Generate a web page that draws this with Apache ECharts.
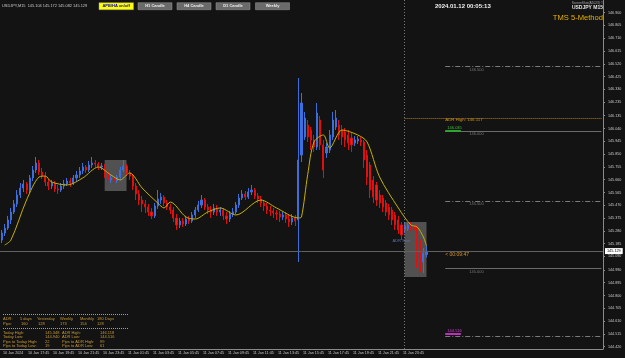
<!DOCTYPE html>
<html>
<head>
<meta charset="utf-8">
<script src="https://cdn.jsdelivr.net/npm/echarts@6/dist/echarts.min.js"></script>
<style>
  html, body { margin: 0; padding: 0; background: #131313; }
  #chart { width: 625px; height: 358px; }
</style>
</head>
<body>
<div id="chart"></div>
<script>
// USDJPY M15, bars from 10 Jan 15:45 to 12 Jan 01:45 -> [open, close, low, high]
const bars = [
  [145.212,145.264,145.190,145.287],[145.264,145.301,145.242,145.331],[145.301,145.361,145.287,145.391],
  [145.361,145.420,145.331,145.450],[145.420,145.480,145.405,145.509],[145.480,145.546,145.457,145.583],
  [145.546,145.598,145.524,145.635],[145.598,145.628,145.569,145.658],[145.628,145.583,145.554,145.643],
  [145.583,145.673,145.561,145.695],[145.673,145.732,145.650,145.762],[145.732,145.784,145.710,145.828],
  [145.784,145.717,145.695,145.806],[145.717,145.687,145.665,145.747],[145.687,145.643,145.613,145.717],
  [145.643,145.613,145.583,145.665],[145.613,145.635,145.591,145.658],[145.635,145.591,145.569,145.650],
  [145.591,145.583,145.554,145.621],[145.583,145.613,145.569,145.635],[145.613,145.628,145.591,145.658],
  [145.628,145.650,145.613,145.673],[145.650,145.635,145.606,145.673],[145.635,145.673,145.621,145.695],
  [145.673,145.695,145.650,145.725],[145.695,145.725,145.673,145.754],[145.725,145.754,145.702,145.784],
  [145.754,145.732,145.710,145.769],[145.732,145.769,145.717,145.799],[145.769,145.784,145.747,145.828],
  [145.784,145.776,145.754,145.806],[145.776,145.754,145.732,145.791],[145.754,145.762,145.732,145.784],
  [145.762,145.717,145.673,145.776],[145.717,145.658,145.621,145.732],[145.658,145.673,145.635,145.695],
  [145.673,145.650,145.628,145.687],[145.650,145.680,145.635,145.695],[145.680,145.732,145.658,145.754],
  [145.732,145.762,145.717,145.806],[145.762,145.710,145.687,145.776],[145.710,145.687,145.658,145.732],
  [145.687,145.613,145.583,145.702],[145.613,145.554,145.509,145.635],[145.554,145.509,145.472,145.583],
  [145.509,145.480,145.420,145.539],[145.480,145.457,145.413,145.509],[145.457,145.420,145.391,145.480],
  [145.420,145.391,145.368,145.450],[145.391,145.465,145.376,145.487],[145.465,145.517,145.443,145.583],
  [145.509,145.531,145.480,145.561],[145.531,145.487,145.465,145.546],[145.487,145.457,145.435,145.509],
  [145.457,145.435,145.405,145.480],[145.435,145.376,145.346,145.457],[145.376,145.324,145.287,145.405],
  [145.324,145.353,145.301,145.376],[145.353,145.331,145.309,145.376],[145.331,145.368,145.316,145.391],
  [145.368,145.353,145.331,145.391],[145.353,145.398,145.339,145.420],[145.398,145.435,145.376,145.457],
  [145.435,145.472,145.420,145.502],[145.472,145.509,145.450,145.546],[145.509,145.457,145.435,145.524],
  [145.457,145.435,145.405,145.480],[145.435,145.420,145.376,145.465],[145.420,145.450,145.398,145.480],
  [145.450,145.420,145.391,145.472],[145.420,145.435,145.391,145.457],[145.435,145.391,145.361,145.450],
  [145.391,145.368,145.331,145.420],[145.368,145.405,145.346,145.428],[145.405,145.420,145.383,145.450],
  [145.420,145.472,145.405,145.494],[145.472,145.524,145.450,145.554],[145.524,145.554,145.509,145.583],
  [145.554,145.531,145.509,145.576],[145.531,145.569,145.517,145.598],[145.569,145.583,145.546,145.621],
  [145.583,145.539,145.517,145.598],[145.539,145.517,145.487,145.561],[145.517,145.487,145.457,145.539],
  [145.487,145.465,145.428,145.509],[145.465,145.435,145.405,145.487],[145.435,145.428,145.391,145.465],
  [145.428,145.413,145.376,145.450],[145.413,145.405,145.361,145.435],[145.405,145.383,145.346,145.428],
  [145.383,145.398,145.361,145.420],[145.398,145.368,145.339,145.420],[145.368,145.346,145.309,145.398],
  [145.346,145.376,145.324,145.405],[145.376,145.353,145.316,145.398],[145.361,145.806,145.049,146.415],
  [145.843,146.229,145.791,146.304],[145.977,146.118,145.955,146.163],[146.066,145.977,145.940,146.103],
  [146.029,145.955,145.880,146.051],[145.955,145.903,145.866,145.992],[145.903,146.155,145.880,146.229],
  [146.103,145.918,145.880,146.133],[145.918,145.732,145.673,145.955],[145.858,145.903,145.821,145.932],
  [145.880,145.992,145.858,146.029],[145.977,146.103,145.955,146.163],[146.051,146.118,146.029,146.177],
  [146.066,145.992,145.955,146.103],[146.029,145.977,145.918,146.066],[146.014,145.955,145.903,146.044],
  [145.992,145.932,145.880,146.029],[145.969,145.918,145.866,146.007],[145.932,145.955,145.910,145.984],
  [145.947,145.962,145.925,145.984],[145.955,145.940,145.910,145.977],[145.940,145.806,145.747,145.955],
  [145.843,145.680,145.621,145.880],[145.769,145.583,145.524,145.791],[145.658,145.531,145.487,145.687],
  [145.621,145.509,145.465,145.643],[145.546,145.487,145.450,145.583],[145.524,145.457,145.420,145.546],
  [145.487,145.420,145.391,145.509],[145.457,145.398,145.361,145.480],[145.435,145.361,145.324,145.457],
  [145.398,145.324,145.287,145.420],[145.361,145.287,145.257,145.391],[145.324,145.250,145.212,145.346],
  [145.287,145.316,145.264,145.346],[145.294,145.324,145.279,145.339],[145.324,145.301,145.279,145.346],
  [145.316,145.287,145.257,145.339],[145.301,145.049,145.004,145.324],[145.212,144.975,144.938,145.242],
  [145.049,145.116,144.968,145.153],[145.104,145.129,145.082,145.172]
];

// yellow moving average, read as [bar index, price]
const maLine = [
  [1,145.175],[3,145.212],[8,145.509],[12,145.680],[14,145.687],[16,145.643],[21,145.621],
  [26,145.673],[31,145.754],[35,145.695],[38,145.658],[41,145.710],[45,145.598],[50,145.487],
  [52,145.450],[54,145.494],[59,145.383],[62,145.368],[66,145.420],[70,145.450],[75,145.398],
  [83,145.509],[88,145.450],[95,145.376],[96,145.383],[98,145.700],[100,145.940],[103,145.992],
  [105,145.895],[109,146.029],[114,145.992],[117,145.940],[121,145.680],[127,145.450],
  [131,145.324],[133,145.309],[135,145.235],[136,145.170]
];

const timeLabels = ['10 Jan 2024','10 Jan 17:45','10 Jan 19:45','10 Jan 21:45','10 Jan 23:45',
  '11 Jan 01:45','11 Jan 03:45','11 Jan 05:45','11 Jan 07:45','11 Jan 09:45','11 Jan 11:45',
  '11 Jan 13:45','11 Jan 15:45','11 Jan 17:45','11 Jan 19:45','11 Jan 21:45','11 Jan 23:45','12 Jan 01:45'];

const priceTicks = [146.900,146.805,146.710,146.615,146.520,146.425,146.330,146.235,146.135,146.040,
  145.945,145.850,145.755,145.660,145.565,145.470,145.375,145.280,145.185,145.090,144.990,144.895,
  144.800,144.705,144.610,144.515,144.420];

const bidPrice = 145.129;
const adrHigh = 146.117;
const adrLow = 144.516;
const roundLevels = [146.500, 145.500, 144.500];   // dash-dot
const solidLevels = [146.020, 145.000];           // solid grey
const todayBox = [[129, 145.346], [136, 144.938]];
const earlierBox = [[33, 145.806], [40, 145.576]];
const adrStartBar = 129;
const emptySlots = 56;

const slots = bars.length + emptySlots;
const categories = [];
for (let i = 0; i < slots; i++) categories.push(String(i));
const lastSlot = slots - 1;

const FONT = '"Liberation Sans"';
const GOLD = '#c99a35';

function txt(x, y, text, fill, size, extra) {
  return {
    type: 'text', x: x, y: y, z: 100, silent: true,
    style: Object.assign({ text: text, fill: fill, fontSize: size, fontFamily: FONT, verticalAlign: 'middle', align: 'left' }, extra || {})
  };
}
function btn(x, w, label, bg, fg) {
  return [
    { type: 'rect', z: 100, silent: true, shape: { x: x, y: 2.7, width: w, height: 7 }, style: { fill: bg, stroke: '#999', lineWidth: 0.5 } },
    txt(x + w / 2, 6.3, label, fg, 4, { align: 'center', fontWeight: 'bold' })
  ];
}
function dotted(y) {
  return { type: 'line', z: 100, silent: true, shape: { x1: 3, y1: y, x2: 128, y2: y }, style: { stroke: GOLD, lineWidth: 1, lineDash: [1, 1] } };
}

const chart = echarts.init(document.getElementById('chart'));

const lines = [
  { xAxis: adrStartBar, lineStyle: { color: '#777', type: [1, 2], width: 1 } },
  { yAxis: bidPrice, lineStyle: { color: '#606060', type: 'solid', width: 1 },
    label: { show: true, position: 'end', distance: 2, formatter: bidPrice.toFixed(3), backgroundColor: '#fff', color: '#000', fontSize: 3.8, padding: [1, 2], fontFamily: FONT } },
  [{ coord: [adrStartBar, adrHigh], lineStyle: { color: '#b57a16', type: [1, 1], width: 1 } }, { coord: [lastSlot, adrHigh] }]
];
roundLevels.forEach(v => lines.push([{ coord: [142, v], lineStyle: { color: '#7a7a7a', type: [5, 2, 1, 2], width: 1 } }, { coord: [lastSlot, v] }]));
solidLevels.forEach(v => lines.push([{ coord: [142, v], lineStyle: { color: '#6a6a6a', type: 'solid', width: 1 } }, { coord: [lastSlot, v] }]));
lines.push([{ coord: [142, 146.020], lineStyle: { color: '#2fa52f', type: 'solid', width: 2 } }, { coord: [147, 146.020] }]);
lines.push([{ coord: [142, adrLow], lineStyle: { color: '#c02ec0', type: 'solid', width: 2 } }, { coord: [147, adrLow] }]);

function tag(coord, text, color, pos, size, extra) {
  return { coord: coord, symbolSize: 0,
    label: Object.assign({ show: true, formatter: text, color: color, position: pos, distance: 1, fontSize: size, fontFamily: FONT }, extra || {}) };
}
const tags = [
  tag([152, 146.500], '146.500', '#777', 'bottom', 4),
  tag([152, 146.020], '146.000', '#777', 'bottom', 4),
  tag([152, 145.500], '145.500', '#777', 'bottom', 4),
  tag([152, 145.000], '145.000', '#777', 'bottom', 4),
  tag([142, adrHigh], 'ADR High: ' + adrHigh.toFixed(3), '#c8901c', 'right', 4.4, { offset: [-1, 2] }),
  tag([144.5, 146.020], '146.035', '#3cc03c', 'top', 4),
  tag([144.5, adrLow], adrLow.toFixed(3), '#d040d0', 'top', 4),
  tag([128, 145.205], 'ADR Start', '#5a72a8', 'inside', 4),
  tag([142, 145.100], '< 00:09:47', '#d8982a', 'right', 5, { offset: [-1, 0] })
];

const tickEvery = (i) => i % 8 === 0 && i < bars.length;

const option = {
  backgroundColor: '#131313',
  animation: false,
  grid: { left: 0, right: 22, top: 0, bottom: 9 },
  xAxis: {
    type: 'category', data: categories, boundaryGap: true,
    axisLine: { lineStyle: { color: '#8a8a8a', width: 1 } },
    axisTick: { alignWithLabel: true, length: 2, interval: tickEvery, lineStyle: { color: '#8a8a8a' } },
    axisLabel: {
      interval: tickEvery, hideOverlap: false, showMinLabel: true, showMaxLabel: false,
      formatter: (v, i) => timeLabels[Math.round(i / 8)] || '',
      align: 'left', margin: 2, color: '#c8c8c8', fontSize: 3.7, fontFamily: FONT, padding: [0, 0, 0, 1.5]
    },
    splitLine: { show: false }
  },
  yAxis: {
    type: 'value', position: 'right', min: 144.403, max: 146.994, scale: true,
    axisLine: { show: true, lineStyle: { color: '#8a8a8a' } },
    axisTick: { show: true, length: 2, customValues: priceTicks, lineStyle: { color: '#8a8a8a' } },
    axisLabel: { customValues: priceTicks, formatter: (v) => v.toFixed(3), color: '#c8c8c8', fontSize: 3.7, fontFamily: FONT, margin: 5 },
    splitLine: { show: false }
  },
  series: [
    {
      type: 'candlestick', data: bars, barWidth: 1.6,
      itemStyle: { color: '#3d6fdc', color0: '#ff1a1a', borderColor: '#3d6fdc', borderColor0: '#e01010', borderWidth: 1 },
      markArea: {
        silent: true,
        itemStyle: { color: 'rgba(120,120,120,0.62)' },
        data: [
          [{ coord: earlierBox[0] }, { coord: earlierBox[1] }],
          [{ coord: todayBox[0] }, { coord: todayBox[1] }]
        ]
      },
      markLine: { silent: true, symbol: ['none', 'none'], label: { show: false }, data: lines },
      markPoint: { silent: true, symbol: 'circle', symbolSize: 0, data: tags }
    },
    {
      type: 'line', data: maLine, showSymbol: false, smooth: 0.3,
      lineStyle: { color: '#c6b000', width: 1 }, z: 3
    }
  ],
  graphic: [
    txt(2, 5.5, 'USDJPY,M15  145.104 145.172 145.082 145.129', '#c8c8c8', 3.9),
    ...btn(99, 34.5, 'APB/HA on/off', '#ffff00', '#0000c8'),
    ...btn(138, 34, 'H1 Candle', '#6a6a6a', '#eeeeee'),
    ...btn(177, 34, 'H4 Candle', '#6a6a6a', '#eeeeee'),
    ...btn(216, 34, 'D1 Candle', '#6a6a6a', '#eeeeee'),
    ...btn(255.5, 34, 'Weekly', '#6a6a6a', '#eeeeee'),
    txt(435, 6, '2024.01.12 00:05:13', '#f0f0f0', 6, { fontWeight: 'bold' }),
    txt(603, 2.8, 'ScreenShot(A2023) \u00a9', '#aaaaaa', 3.2, { align: 'right' }),
    txt(603, 8, 'USDJPY M15', '#e0e0e0', 5, { align: 'right', fontWeight: 'bold' }),
    txt(603, 18, 'TMS 5-Method', '#e8b000', 7.6, { align: 'right' }),
    dotted(314.5),
    txt(3, 319, 'ADR:', GOLD, 4), txt(20, 319, '5 days', GOLD, 4), txt(37, 319, 'Yesterday', GOLD, 4),
    txt(60, 319, 'Weekly', GOLD, 4), txt(80, 319, 'Monthly', GOLD, 4), txt(97, 319, '180 Days', GOLD, 4),
    txt(3, 323.5, 'Pips:', GOLD, 4), txt(21, 323.5, '160', GOLD, 4), txt(38, 323.5, '128', GOLD, 4),
    txt(60, 323.5, '173', GOLD, 4), txt(80, 323.5, '154', GOLD, 4), txt(97, 323.5, '128', GOLD, 4),
    dotted(328.5),
    txt(3, 332.5, 'Today High:', GOLD, 4), txt(45, 332.5, '145.348', GOLD, 4),
    txt(62, 332.5, 'ADR High:', GOLD, 4), txt(100, 332.5, '146.118', GOLD, 4),
    txt(3, 337, 'Today Low:', GOLD, 4), txt(45, 337, '144.940', GOLD, 4),
    txt(62, 337, 'ADR Low:', GOLD, 4), txt(100, 337, '144.516', GOLD, 4),
    txt(3, 341.5, 'Pips to Today High:', GOLD, 4), txt(45, 341.5, '22', GOLD, 4),
    txt(62, 341.5, 'Pips to ADR High:', GOLD, 4), txt(100, 341.5, '99', GOLD, 4),
    txt(3, 345.8, 'Pips to Today Low:', GOLD, 4), txt(45, 345.8, '19', GOLD, 4),
    txt(62, 345.8, 'Pips to ADR Low:', GOLD, 4), txt(100, 345.8, '61', GOLD, 4)
  ]
};

chart.setOption(option);
window.addEventListener('resize', function () {
  chart.resize();
});
</script>
</body>
</html>
